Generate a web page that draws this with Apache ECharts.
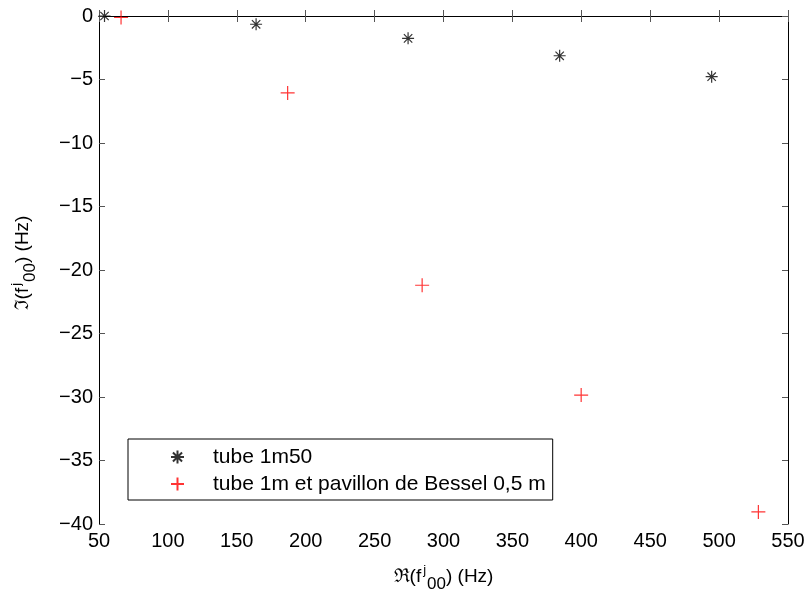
<!DOCTYPE html>
<html>
<head>
<meta charset="utf-8">
<script src="https://cdn.jsdelivr.net/npm/echarts@6/dist/echarts.min.js"></script>
<style>
  html, body { margin: 0; padding: 0; background: #fff; }
  #chart { width: 808px; height: 590px; }
</style>
</head>
<body>
<div id="chart"></div>
<script>
// Complex eigenfrequencies: real part (Hz) vs imaginary part (Hz)
const tubeRe = [54, 164, 274.3, 384.3, 494.6];
const tubeIm = [0, -0.65, -1.76, -3.13, -4.78];
const besselRe = [66, 186.9, 284.5, 399.9, 528.5];
const besselIm = [-0.12, -6.06, -21.2, -29.85, -39.05];

const seriesNames = ['tube 1m50', 'tube 1m et pavillon de Bessel 0,5 m'];
const xTicks = { min: 50, max: 550, step: 50 };
const yTicks = { min: -40, max: 0, step: 5 };

const FONT = 'Liberation Sans';

// Stroked marker shapes: MATLAB-like '*' and '+'
const starPath = 'path://M5,0 L5,10 M0,5 L10,5 M1.5,1.5 L8.5,8.5 M8.5,1.5 L1.5,8.5';
const plusPath = 'path://M5,0 L5,10 M0,5 L10,5';

const pairs = (xs, ys) => xs.map((x, i) => [x, ys[i]]);

const minus = v => String(v).replace('-', '\u2212');

// Axis title with superscript j and subscript 00
const titleRich = {
  t: { fontFamily: FONT, fontSize: 19, color: '#000' },
  sup: { fontFamily: FONT, fontSize: 13, color: '#000', padding: [0, 1, 13, 2] },
  sub: { fontFamily: FONT, fontSize: 17, color: '#000', padding: [15, 0, 0, 0] }
};

const chart = echarts.init(document.getElementById('chart'), null, { renderer: 'canvas' });

const baseAxisLine = { show: true, lineStyle: { color: '#000', width: 1 } };
const tickIn = { show: true, inside: true, length: 6, lineStyle: { color: '#555', width: 1 } };

chart.setOption({
  animation: false,
  backgroundColor: '#fff',
  grid: { left: 99, right: 20, top: 16, bottom: 66, containLabel: false, outerBoundsMode: 'none' },
  xAxis: [
    {
      type: 'value', position: 'bottom',
      min: xTicks.min, max: xTicks.max, interval: xTicks.step,
      axisLine: baseAxisLine, axisTick: tickIn, splitLine: { show: false },
      axisLabel: { color: '#000', fontFamily: FONT, fontSize: 20, margin: 7 },
      name: '{t|\u211C(f}{sup|j}{sub|00}{t|) (Hz)}',
      nameLocation: 'middle', nameGap: 37,
      nameTextStyle: { rich: titleRich }
    },
    {
      type: 'value', position: 'top',
      min: xTicks.min, max: xTicks.max, interval: xTicks.step,
      axisLine: baseAxisLine, axisTick: tickIn, axisLabel: { show: false },
      splitLine: { show: false }
    }
  ],
  yAxis: [
    {
      type: 'value', position: 'left',
      min: yTicks.min, max: yTicks.max, interval: yTicks.step,
      axisLine: baseAxisLine, axisTick: tickIn, splitLine: { show: false },
      axisLabel: { color: '#000', fontFamily: FONT, fontSize: 20, margin: 6, formatter: minus },
      name: '{t|\u2111(f}{sup|j}{sub|00}{t|) (Hz)}',
      nameLocation: 'middle', nameGap: 60, nameRotate: 90,
      nameTextStyle: { rich: titleRich, padding: [0, 0, 0, 14] }
    },
    {
      type: 'value', position: 'right',
      min: yTicks.min, max: yTicks.max, interval: yTicks.step,
      axisLine: baseAxisLine, axisTick: tickIn, axisLabel: { show: false },
      splitLine: { show: false }
    }
  ],
  legend: {
    orient: 'vertical',
    left: 128, top: 439,
    backgroundColor: '#fff',
    borderColor: '#000', borderWidth: 1, borderRadius: 0,
    padding: [6, 7, 4, 42],
    itemWidth: 13, itemHeight: 13, itemGap: 3,
    textStyle: { fontFamily: FONT, fontSize: 21, color: '#000', lineHeight: 24, padding: [0, 0, 0, 24] },
    data: seriesNames
  },
  series: [
    {
      name: seriesNames[0], type: 'scatter',
      data: pairs(tubeRe, tubeIm),
      symbol: starPath, symbolSize: 12,
      itemStyle: { color: 'rgba(0,0,0,0)', borderColor: '#000', borderWidth: 1.2 },
      z: 3
    },
    {
      name: seriesNames[1], type: 'scatter',
      data: pairs(besselRe, besselIm),
      symbol: plusPath, symbolSize: 14,
      itemStyle: { color: 'rgba(0,0,0,0)', borderColor: '#ff0000', borderWidth: 1.2 },
      z: 3
    }
  ]
});
</script>
</body>
</html>
